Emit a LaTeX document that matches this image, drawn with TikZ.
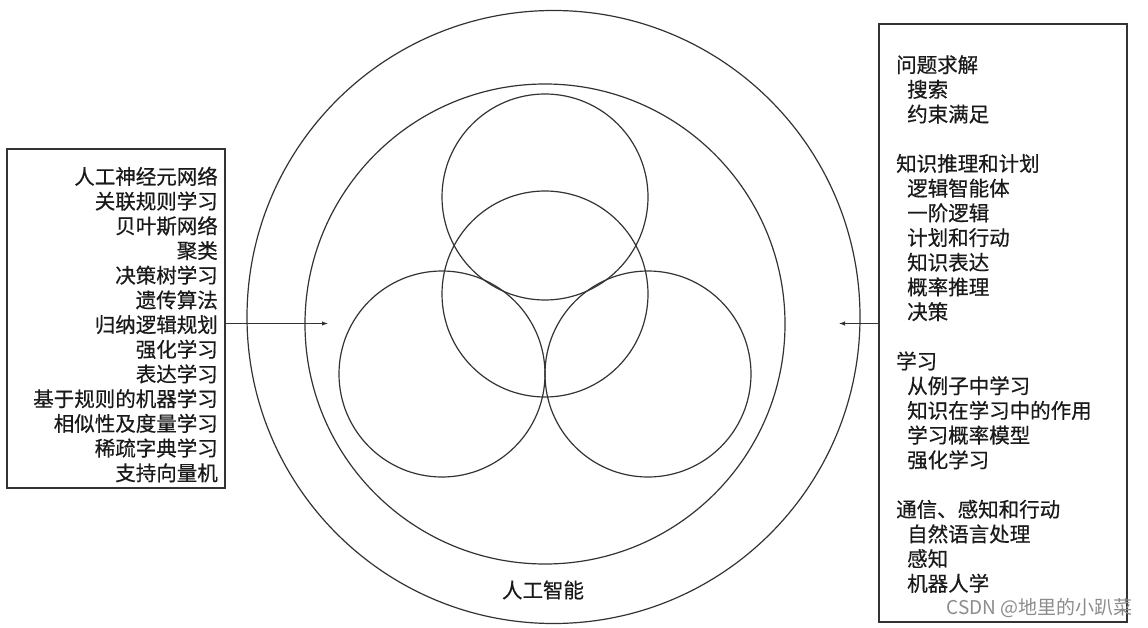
\documentclass[tikz,border=0pt]{standalone}
\usepackage{fontspec}
\newfontfamily\cjk[FakeBold=0.5]{Noto Sans CJK SC}
\newfontfamily\cjkwm{Noto Sans CJK SC}
\usetikzlibrary{arrows.meta}
\definecolor{linec}{HTML}{333333}
\definecolor{textc}{HTML}{1A1A1A}
\begin{document}
\begin{tikzpicture}[x=1pt,y=-1pt,
  ring/.style={circle,draw=linec,line width=1.2pt,inner sep=0pt},
  listbox/.style={draw=linec,line width=1.1pt,inner sep=0pt},
  listtext/.style={inner sep=0pt,font=\cjk\fontsize{20.5}{24.7}\selectfont,text=textc},
  link/.style={draw=linec,line width=1pt,-{Latex[length=6pt,width=4.5pt]}}]
\useasboundingbox[fill=white] (0,0) rectangle (1148,628);
% circles
\node[ring,minimum size=613pt] (outer) at (553.5,317) {};
\node[ring,minimum size=480pt] (inner) at (545,324) {};
\node[ring,minimum size=206pt] (top) at (545,197) {};
\node[ring,minimum size=206pt] (mid) at (545,294) {};
\node[ring,minimum size=206pt] (bl) at (442,374) {};
\node[ring,minimum size=206pt] (br) at (648,374) {};
\node[font=\cjk\fontsize{20.5}{24}\selectfont,text=textc] (ai) at (543,590) {人工智能};
% left box
\node[listbox,minimum width=218pt,minimum height=339pt] (lbox) at (116,318.5) {};
\node[listtext,anchor=east,align=right] (ltext) at (218,324.5) {人工神经元网络\\关联规则学习\\贝叶斯网络\\聚类\\决策树学习\\遗传算法\\归纳逻辑规划\\强化学习\\表达学习\\基于规则的机器学习\\相似性及度量学习\\稀疏字典学习\\支持向量机};
% right box
\node[listbox,minimum width=248pt,minimum height=598pt] (rbox) at (1003,323) {};
\node[listtext,anchor=west,align=left] (rtext) at (896,324) {问题求解\\
\hspace*{11pt}搜索\\
\hspace*{11pt}约束满足\\[24.7pt]
知识推理和计划\\
\hspace*{11pt}逻辑智能体\\
\hspace*{11pt}一阶逻辑\\
\hspace*{11pt}计划和行动\\
\hspace*{11pt}知识表达\\
\hspace*{11pt}概率推理\\
\hspace*{11pt}决策\\[24.7pt]
学习\\
\hspace*{11pt}从例子中学习\\
\hspace*{11pt}知识在学习中的作用\\
\hspace*{11pt}学习概率模型\\
\hspace*{11pt}强化学习\\[24.7pt]
通信、感知和行动\\
\hspace*{11pt}自然语言处理\\
\hspace*{11pt}感知\\
\hspace*{11pt}机器人学};
\node[anchor=east,inner sep=0pt,text=black!45,font=\cjkwm\fontsize{19}{22}\selectfont] (wm) at (1133,608) {CSDN @地里的小趴菜};
% arrows
\coordinate (lt) at (328,323.5);
\coordinate (rt) at (839,323.5);
\draw[link] (lbox.east |- lt) -- (lt);
\draw[link] (rbox.west |- rt) -- (rt);
\end{tikzpicture}
\end{document}
